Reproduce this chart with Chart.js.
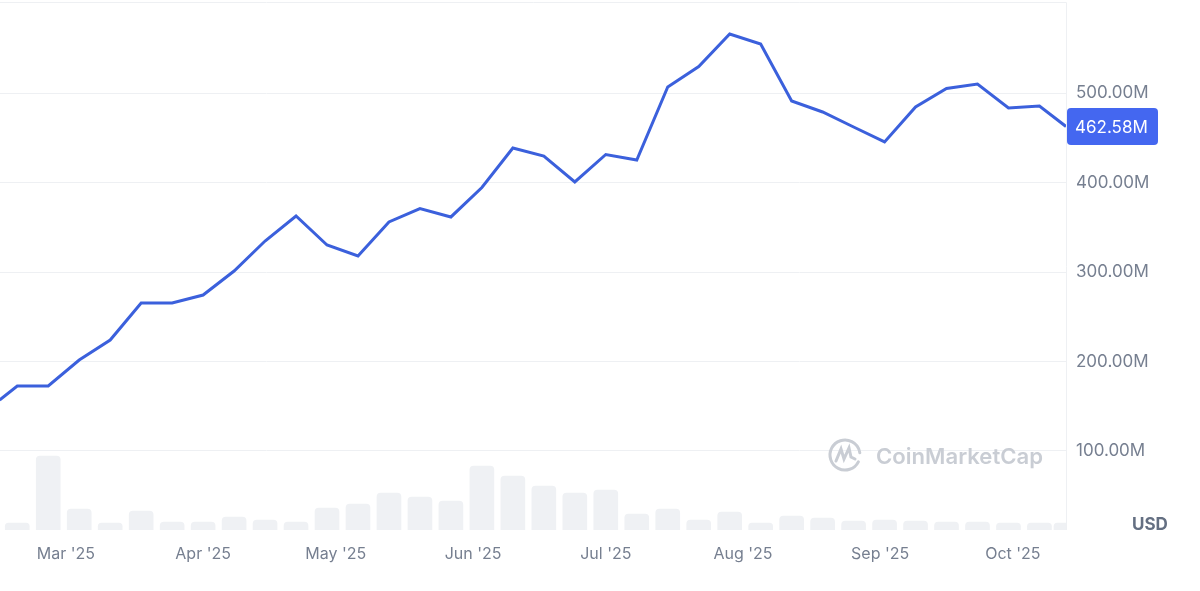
<!DOCTYPE html>
<html>
<head>
<meta charset="utf-8">
<script src="https://cdn.jsdelivr.net/npm/chart.js@4.4.1/dist/chart.umd.min.js"></script>
<style>
  html, body { margin: 0; padding: 0; background: #fff; }
  #wrap { width: 1200px; height: 591px; position: relative; }
</style>
</head>
<body>
<div id="wrap"><canvas id="myChart"></canvas></div>
<script>
// weekly points (first one sits right on the left edge, last one is the live value)
const pointDates = [
  '2025-02-14', '2025-02-18', '2025-02-25', '2025-03-04', '2025-03-11', '2025-03-18',
  '2025-03-25', '2025-04-01', '2025-04-08', '2025-04-15', '2025-04-22', '2025-04-29',
  '2025-05-06', '2025-05-13', '2025-05-20', '2025-05-27', '2025-06-03', '2025-06-10',
  '2025-06-17', '2025-06-24', '2025-07-01', '2025-07-08', '2025-07-15', '2025-07-22',
  '2025-07-29', '2025-08-05', '2025-08-12', '2025-08-19', '2025-08-26', '2025-09-02',
  '2025-09-09', '2025-09-16', '2025-09-23', '2025-09-30', '2025-10-07', '2025-10-13'
];
// value in millions USD
const priceValues = [
  157, 172.6, 172.6, 201.7, 224.0, 265.4,
  265.4, 274.3, 301.1, 334.6, 362.6, 330.2,
  317.9, 355.9, 370.9, 361.5, 394.4, 438.5,
  429.6, 400.6, 431.3, 425.1, 506.7, 529.6,
  565.9, 554.7, 491.1, 478.8, 462.0, 445.3,
  484.4, 505.0, 510.1, 483.2, 485.5, 462.58
];
// volume bars (relative units)
const volumeValues = [
  null, 7, 74, 21, 7, 19,
  8, 8, 13, 10, 8, 22,
  26, 37, 33, 29, 64, 54,
  44, 37, 40, 16, 21, 10,
  18, 7, 14, 12, 9, 10,
  9, 8, 8, 7, 7, 7
];
const monthDates = ['2025-03-01', '2025-04-01', '2025-05-01', '2025-06-01',
                    '2025-07-01', '2025-08-01', '2025-09-01', '2025-10-01'];
const monthLabels = ["Mar '25", "Apr '25", "May '25", "Jun '25",
                     "Jul '25", "Aug '25", "Sep '25", "Oct '25"];
const priceTicks = [100, 200, 300, 400, 500];

const DAY0 = Date.UTC(2025, 2, 1);
function toDay(s) {
  const p = s.split('-').map(Number);
  return (Date.UTC(p[0], p[1] - 1, p[2]) - DAY0) / 86400000;
}
const pointDays = pointDates.map(toDay);
const monthDays = monthDates.map(toDay);

const priceData = pointDays.map((d, i) => ({ x: d, y: priceValues[i] }));
const volumeData = pointDays.map((d, i) => ({ x: d, y: volumeValues[i] }));

const labelColor = '#767f90';
const gridColor = '#eef0f3';
const lineColor = '#3b60dc';

const decorPlugin = {
  id: 'decor',
  beforeDatasetsDraw(chart) {
    const { ctx, chartArea } = chart;
    ctx.save();
    // frame top + right
    ctx.strokeStyle = gridColor;
    ctx.lineWidth = 1;
    ctx.beginPath();
    ctx.moveTo(chartArea.left, chartArea.top + 0.5);
    ctx.lineTo(chartArea.right + 0.5, chartArea.top + 0.5);
    ctx.lineTo(chartArea.right + 0.5, chartArea.bottom);
    ctx.stroke();
    // watermark
    const wmColor = '#c9cdd4';
    const cx = 845, cy = 455, r = 15;
    ctx.strokeStyle = wmColor;
    ctx.lineWidth = 3;
    ctx.lineCap = 'round';
    ctx.beginPath();
    ctx.arc(cx, cy, r, 0.15 * Math.PI, 1.95 * Math.PI);
    ctx.stroke();
    ctx.beginPath();
    ctx.moveTo(cx - 9, cy + 6);
    ctx.lineTo(cx - 4, cy - 6);
    ctx.lineTo(cx - 1, cy + 4);
    ctx.lineTo(cx + 4, cy - 7);
    ctx.lineTo(cx + 6, cy + 2);
    ctx.lineTo(cx + 10, cy + 4);
    ctx.stroke();
    ctx.fillStyle = wmColor;
    ctx.font = '600 22px Inter, "Noto Sans", sans-serif';
    ctx.textBaseline = 'middle';
    ctx.textAlign = 'left';
    const txt = 'CoinMarketCap';
    const w = ctx.measureText(txt).width;
    ctx.save();
    ctx.translate(876, 457);
    ctx.scale(167 / w, 1);
    ctx.fillText(txt, 0, 0);
    ctx.restore();
    ctx.restore();
  },
  afterDraw(chart) {
    const { ctx, chartArea, scales } = chart;
    ctx.save();
    // current value badge
    const last = priceValues[priceValues.length - 1];
    const y = scales.y.getPixelForValue(last);
    const bx = chartArea.right + 1, bw = 91, bh = 37;
    ctx.fillStyle = '#4467f0';
    ctx.beginPath();
    ctx.roundRect(bx, y - bh / 2, bw, bh, 4);
    ctx.fill();
    ctx.fillStyle = '#ffffff';
    ctx.font = '17px Inter, "Noto Sans", sans-serif';
    ctx.textBaseline = 'middle';
    ctx.textAlign = 'left';
    ctx.fillText(last.toFixed(2) + 'M', bx + 8, y + 1);
    // currency label
    ctx.fillStyle = '#646f82';
    ctx.font = 'bold 17px Inter, "Noto Sans", sans-serif';
    ctx.fillText('USD', 1132, 525);
    ctx.restore();
  }
};

const ctx = document.getElementById('myChart').getContext('2d');
const chart = new Chart(ctx, {
  data: {
    datasets: [
      {
        type: 'line',
        label: 'Price',
        data: priceData,
        borderColor: lineColor,
        borderWidth: 3,
        pointRadius: 0,
        tension: 0,
        yAxisID: 'y',
        order: 1
      },
      {
        type: 'bar',
        label: 'Volume',
        data: volumeData,
        backgroundColor: '#eff1f4',
        borderRadius: { topLeft: 4, topRight: 4 },
        borderSkipped: 'bottom',
        barThickness: 24,
        yAxisID: 'yv',
        order: 2
      }
    ]
  },
  options: {
    responsive: true,
    maintainAspectRatio: false,
    animation: false,
    layout: { padding: { top: 2, left: 0, right: 0, bottom: 0 } },
    plugins: { legend: { display: false }, tooltip: { enabled: false } },
    scales: {
      x: {
        type: 'linear',
        offset: false,
        min: pointDays[0] + 0.1,
        max: pointDays[pointDays.length - 1],
        grid: { display: false, drawTicks: false, offset: false },
        border: { display: false },
        afterBuildTicks: scale => { scale.ticks = monthDays.map(v => ({ value: v })); },
        afterFit: scale => { scale.height = 61; scale.paddingLeft = 0; scale.paddingRight = 0; },
        ticks: {
          autoSkip: false,
          maxRotation: 0,
          padding: 15,
          color: labelColor,
          font: { family: 'Inter, "Noto Sans", sans-serif', size: 16 },
          callback: value => monthLabels[monthDays.indexOf(value)]
        }
      },
      y: {
        position: 'right',
        min: 11.73,
        max: 601.68,
        grid: { color: gridColor, drawTicks: false },
        border: { display: false },
        afterBuildTicks: scale => { scale.ticks = priceTicks.map(v => ({ value: v })); },
        afterFit: scale => { scale.width = 134; scale.paddingTop = 0; scale.paddingBottom = 0; },
        ticks: {
          padding: 10,
          color: labelColor,
          font: { family: 'Inter, "Noto Sans", sans-serif', size: 17 },
          callback: value => value.toFixed(2) + 'M'
        }
      },
      yv: {
        display: false,
        min: 0,
        max: 528
      }
    }
  },
  plugins: [decorPlugin]
});
</script>
</body>
</html>
